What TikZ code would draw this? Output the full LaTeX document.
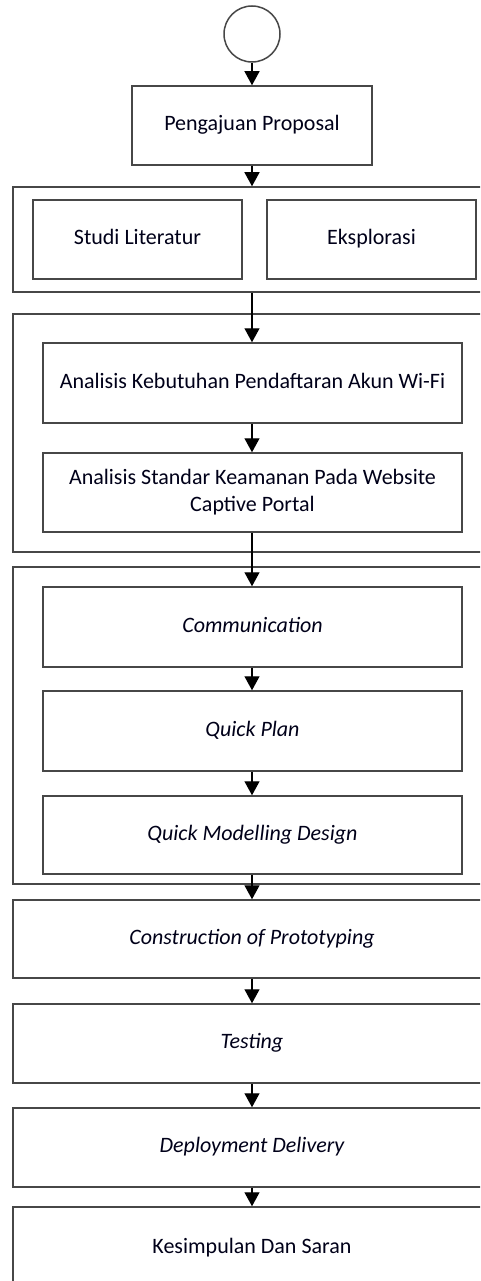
\documentclass[tikz,border=0pt]{standalone}
\usepackage{fontspec}
\setmainfont{Carlito}
\usetikzlibrary{arrows.meta}
\begin{document}
\begin{tikzpicture}[x=1pt,y=-1pt,
  box/.style={draw=black!72,line width=1.5pt,rectangle,inner sep=0pt,align=center,
    font=\fontsize{22}{27}\selectfont,text=black!90!blue},
  arr/.style={draw=black,line width=1.3pt,-{Triangle[width=15pt,length=14pt]}}]
\path[use as bounding box,clip] (0,0) rectangle (480,1281);
\fill[white] (0,0) rectangle (480,1281);
% start
\node[draw=black!72,line width=1.5pt,circle,minimum size=56pt,inner sep=0pt] (start) at (252,34) {};
\node[box,minimum width=240pt,minimum height=79pt] (p1) at (252,125.5) {\strut Pengajuan Proposal};
% group 1
\node[box,minimum width=478pt,minimum height=105pt] (g1) at (252,239.5) {};
\node[box,minimum width=209pt,minimum height=79pt] (studi) at (137.5,239.5) {\strut Studi Literatur};
\node[box,minimum width=209pt,minimum height=79pt] (eksp) at (371.5,239.5) {\strut Eksplorasi};
% group 2
\node[box,minimum width=478pt,minimum height=238pt] (g2) at (252,433) {};
\node[box,minimum width=419pt,minimum height=80pt] (a1) at (252.5,383) {\strut Analisis Kebutuhan Pendaftaran Akun Wi-Fi};
\node[box,minimum width=419pt,minimum height=79pt] (a2) at (252.5,492.5) {Analisis Standar Keamanan Pada Website\\Captive Portal};
% group 3
\node[box,minimum width=478pt,minimum height=317pt] (g3) at (252,725.5) {};
\node[box,minimum width=419pt,minimum height=80pt] (comm) at (252.5,627) {\strut\itshape Communication};
\node[box,minimum width=419pt,minimum height=80pt] (qp) at (252.5,731) {\strut\itshape Quick Plan};
\node[box,minimum width=419pt,minimum height=78pt] (qm) at (252.5,835) {\strut\itshape Quick Modelling Design};
% lower steps
\node[box,minimum width=478pt,minimum height=78pt] (cons) at (252,939) {\strut\itshape Construction of Prototyping};
\node[box,minimum width=478pt,minimum height=79pt] (test) at (252,1043.5) {\strut\itshape Testing};
\node[box,minimum width=478pt,minimum height=79pt] (dep) at (252,1147.5) {\strut\itshape Deployment Delivery};
\node[box,minimum width=478pt,minimum height=82pt] (kes) at (252,1248) {\strut Kesimpulan Dan Saran};
% connectors
\draw[arr] (start.south) -- (p1.north);
\draw[arr] (p1.south) -- (g1.north);
\draw[arr] (g1.south) -- (a1.north-|g1.south);
\draw[arr] (a1.south-|g1.south) -- (a2.north-|g1.south);
\draw[arr] (a2.south-|g1.south) -- (comm.north-|g1.south);
\draw[arr] (comm.south-|g1.south) -- (qp.north-|g1.south);
\draw[arr] (qp.south-|g1.south) -- (qm.north-|g1.south);
\draw[arr] (qm.south-|g1.south) -- (cons.north);
\draw[arr] (cons.south) -- (test.north);
\draw[arr] (test.south) -- (dep.north);
\draw[arr] (dep.south) -- (kes.north);
\end{tikzpicture}
\end{document}
